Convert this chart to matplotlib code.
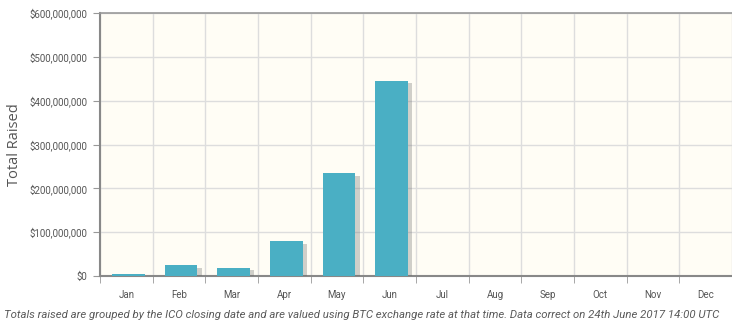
# ICO totals raised per month, 2017
import numpy as np
import matplotlib.pyplot as plt
from matplotlib import patheffects
from matplotlib.ticker import FuncFormatter, FixedLocator

months = ['Jan', 'Feb', 'Mar', 'Apr', 'May', 'Jun', 'Jul', 'Aug', 'Sep', 'Oct', 'Nov', 'Dec']
raised = [4e6, 25e6, 19e6, 80e6, 235e6, 446e6, 0, 0, 0, 0, 0, 0]
yticks = [0, 100e6, 200e6, 300e6, 400e6, 500e6, 600e6]

note = ('Totals raised are grouped by the ICO closing date and are valued using BTC exchange rate '
        'at that time. Data correct on 24th June 2017 14:00 UTC')

tickfont = ['Roboto', 'DejaVu Sans']

fig = plt.figure(figsize=(7.32, 3.26), dpi=100)
ax = fig.add_axes([0.1366, 0.1534, 0.8634, 0.8066])
ax.set_facecolor('#fffdf5')

x = np.arange(len(months))
bars = ax.bar(x + 0.04, raised, width=0.62, color='#4aafc4', zorder=3)
for b in bars:
    if b.get_height() > 0:
        b.set_path_effects([patheffects.SimplePatchShadow(offset=(3, -2), shadow_rgbFace='#666666', alpha=0.3),
                            patheffects.Normal()])

ax.set_xlim(-0.5, len(months) - 0.5)
ax.set_ylim(0, 600e6)
ax.set_yticks(yticks)
ax.yaxis.set_major_formatter(FuncFormatter(lambda v, p: '${:,.0f}'.format(v)))

# month labels at centres, tick marks + grid on the boundaries
ax.set_xticks(x)
ax.set_xticklabels(months)
ax.tick_params(axis='x', which='major', length=0, pad=10)
ax.xaxis.set_minor_locator(FixedLocator(np.arange(-0.5, len(months), 1.0)))
ax.tick_params(axis='x', which='minor', length=5, color='#999999')
ax.tick_params(axis='y', length=5, color='#999999', pad=4)
ax.tick_params(labelsize=7, labelcolor='#555555')
for lab in ax.get_xticklabels() + ax.get_yticklabels():
    lab.set_family(tickfont)

ax.grid(True, axis='y', color='#dddddd', linewidth=1, zorder=0)
ax.grid(True, axis='x', which='minor', color='#dddddd', linewidth=1, zorder=0)
ax.set_axisbelow(True)

for side in ['left', 'bottom']:
    ax.spines[side].set_color('#888888')
    ax.spines[side].set_linewidth(1.5)
ax.spines['top'].set_color('#999999')
ax.spines['top'].set_linewidth(1.2)
ax.spines['right'].set_visible(False)

fig.text(0.02, 0.556, 'Total Raised', rotation=90, fontsize=10.5, family='Open Sans',
         color='#555555', ha='center', va='center')

foot = fig.text(0.006, 0.033, note, fontsize=8, style='italic', family=tickfont, color='#5a5a5a',
                ha='left', va='center')
# shrink the footnote so it spans the same width as in the original
r = fig.canvas.get_renderer()
w = foot.get_window_extent(r).width
foot.set_fontsize(8 * 716 / w)

plt.savefig('out.png', dpi=100)
